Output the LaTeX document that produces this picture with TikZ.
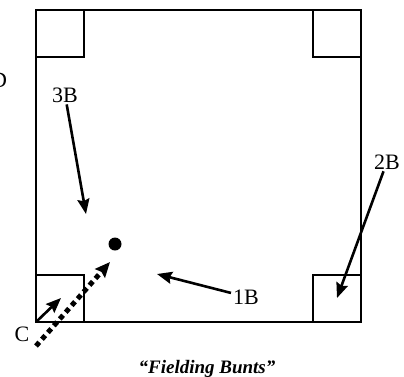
\documentclass[tikz,border=0pt]{standalone}
\usepackage{fontspec}
\setmainfont{Liberation Serif}
\usetikzlibrary{arrows.meta,positioning}

\begin{document}
\begin{tikzpicture}[x=1pt,y=-1pt,font=\fontsize{22}{24}\selectfont,
    lbl/.style={inner sep=2pt,anchor=base},
    pointer/.style={line width=2.6pt,-{Stealth[length=15pt,width=12pt,inset=2pt]}},
    bunt/.style={line width=5pt,dash pattern=on 5pt off 4pt,
      -{Stealth[length=15pt,width=13pt,inset=2pt]}}]
  \useasboundingbox (0,0) rectangle (404,376);

  % infield outline
  \draw[line width=2pt] (36,10) rectangle (361,322);
  % the four bases in the corners
  \foreach \x/\y in {36/10,313/10,36/275,313/275}{
    \draw[line width=1.8pt] (\x,\y) rectangle ++(48,47);
  }

  % ball and where the throws go
  \fill (115,244) circle (6.5pt);
  \coordinate (home) at (36,322);
  \coordinate (catch) at (61,298);
  \coordinate (bunt0) at (36,346);
  \coordinate (bunt1) at (110,262);
  \coordinate (third) at (86,214);
  \coordinate (first) at (157,274);
  \coordinate (second) at (337,298);

  % fielders
  \node[lbl] (lb3) at (65,102) {3B};
  \node[lbl] (lb1) at (246,304) {1B};
  \node[lbl] (lb2) at (387,169) {2B};
  \node[lbl] (lbc) at (22,341) {C};
  \node[lbl] (cut) at (-1,87) {D};

  \draw[pointer] (lb3) -- (third);
  \draw[pointer] (lb1) -- (first);
  \draw[pointer] (lb2) -- (second);
  \draw[pointer] (home) -- (catch);
  \draw[bunt] (bunt0) -- (bunt1);

  \node[anchor=base,font=\fontsize{19}{22}\selectfont\bfseries\itshape] (title)
    at (207,373) {“Fielding Bunts”};
\end{tikzpicture}
\end{document}
